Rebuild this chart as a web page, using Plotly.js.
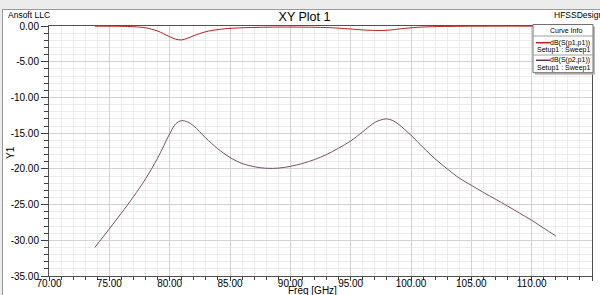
<!DOCTYPE html>
<html><head><meta charset="utf-8">
<script src="https://cdn.plot.ly/plotly-3.0.1.min.js"></script>
<style>
html,body{margin:0;padding:0;background:#ececec;width:600px;height:295px;overflow:hidden;}
#wrap{position:absolute;left:2px;top:9px;width:598px;height:286px;border-left:1px solid #9a9a9a;border-top:1px solid #9a9a9a;background:#fff;}
#chart{position:absolute;left:0;top:0;width:597px;height:285px;}
</style></head>
<body><div id="wrap"><div id="chart"></div></div>
<script>
// ---- data ----
const freqGHz = [73.8,75,76,77,78,79,80,80.5,81,81.5,82,83,84,85,86,87,88,89,90,91,92,93,94,95,96,97,97.5,98,98.5,99,100,101,102,103,104,105,106,107,108,109,110,111,112];
const s11dB = [-0.02,-0.03,-0.05,-0.1,-0.25,-0.7,-1.5,-1.85,-1.95,-1.7,-1.35,-0.8,-0.5,-0.33,-0.25,-0.2,-0.17,-0.15,-0.15,-0.16,-0.18,-0.22,-0.3,-0.42,-0.55,-0.62,-0.63,-0.6,-0.52,-0.42,-0.25,-0.14,-0.09,-0.06,-0.04,-0.03,-0.03,-0.02,-0.02,-0.02,-0.02,-0.02,-0.02];
const s21dB = [-31.0,-28.4,-26.2,-23.9,-21.4,-18.5,-15.1,-13.7,-13.25,-13.45,-14.0,-15.7,-17.2,-18.4,-19.25,-19.7,-19.92,-19.9,-19.65,-19.25,-18.7,-18.0,-17.1,-16.1,-14.8,-13.5,-13.15,-13.0,-13.25,-13.8,-15.3,-17.0,-18.6,-20.0,-21.3,-22.3,-23.3,-24.25,-25.2,-26.2,-27.2,-28.3,-29.4];
const seriesNames = ["dB(S(p1,p1))","dB(S(p2,p1))"];
const sweepLabel = "Setup1 : Sweep1";
const xTickVals = [70,75,80,85,90,95,100,105,110,115];
const xTickText = ["70.00","75.00","80.00","85.00","90.00","95.00","100.00","105.00","110.00","115.00"];
const yTickVals = [0,-5,-10,-15,-20,-25,-30,-35];
const yTickText = ["0.00","-5.00","-10.00","-15.00","-20.00","-25.00","-30.00","-35.00"];

// ---- geometry helpers (absolute page px -> paper coords) ----
const DX=3, DY=10, W=597, H=285, M={l:46,r:8,t:16,b:19};
const PW=W-M.l-M.r, PH=H-M.t-M.b;
const px = a => (a-DX-M.l)/PW;
const py = a => 1-(a-DY-M.t)/PH;

const colors = ["#c01c1c","#7c5068"];
const traces = [
  {x:freqGHz,y:s11dB,type:"scatter",mode:"lines",name:seriesNames[0],line:{color:colors[0],width:1,shape:"spline",smoothing:0.8},showlegend:false},
  {x:freqGHz,y:s21dB,type:"scatter",mode:"lines",name:seriesNames[1],line:{color:colors[1],width:1,shape:"spline",smoothing:0.9},showlegend:false}
];

const F = "Liberation Sans, Arial, sans-serif";
const lx0=533, lx1=593, ly0=24.5, ly1=72.7;
const LF = 7;
const shapes = [
  {type:"rect",xref:"paper",yref:"paper",x0:px(lx0+2),x1:px(lx1+2),y0:py(ly0+2),y1:py(ly1+2),fillcolor:"#b8b8b8",line:{width:0},layer:"above"},
  {type:"rect",xref:"paper",yref:"paper",x0:px(lx0),x1:px(lx1),y0:py(ly0),y1:py(ly1),fillcolor:"#ffffff",line:{color:"#707070",width:1},layer:"above"},
  {type:"line",xref:"paper",yref:"paper",x0:px(lx0),x1:px(lx1),y0:py(36),y1:py(36),line:{color:"#a0a0a0",width:1},layer:"above"},
  {type:"line",xref:"paper",yref:"paper",x0:px(lx0),x1:px(lx1),y0:py(55),y1:py(55),line:{color:"#a0a0a0",width:1},layer:"above"},
  {type:"line",xref:"paper",yref:"paper",x0:px(536),x1:px(550),y0:py(42.7),y1:py(42.7),line:{color:"#d01818",width:1.5},layer:"above"},
  {type:"line",xref:"paper",yref:"paper",x0:px(536),x1:px(550),y0:py(60.3),y1:py(60.3),line:{color:"#6a2c4c",width:1.5},layer:"above"}
];
const annotations = [
  {text:"Ansoft LLC",xref:"paper",yref:"paper",x:px(6),y:py(15),xanchor:"left",yanchor:"middle",showarrow:false,font:{family:F,size:8.5,color:"#000"}},
  {text:"HFSSDesign1",xref:"paper",yref:"paper",x:px(551.5),y:py(15),xanchor:"left",yanchor:"middle",showarrow:false,font:{family:F,size:8.5,color:"#000"}},
  {text:"Curve Info",xref:"paper",yref:"paper",x:px(566),y:py(30.5),xanchor:"center",yanchor:"middle",showarrow:false,font:{family:F,size:LF,color:"#000"}},
  {text:seriesNames[0],xref:"paper",yref:"paper",x:px(592),y:py(42.5),xanchor:"right",yanchor:"middle",showarrow:false,font:{family:F,size:LF,color:"#000"}},
  {text:sweepLabel,xref:"paper",yref:"paper",x:px(535),y:py(50),xanchor:"left",yanchor:"middle",showarrow:false,font:{family:F,size:LF,color:"#000"}},
  {text:seriesNames[1],xref:"paper",yref:"paper",x:px(592),y:py(60),xanchor:"right",yanchor:"middle",showarrow:false,font:{family:F,size:LF,color:"#000"}},
  {text:sweepLabel,xref:"paper",yref:"paper",x:px(535),y:py(68),xanchor:"left",yanchor:"middle",showarrow:false,font:{family:F,size:LF,color:"#000"}},
  {text:"Y1",xref:"paper",yref:"paper",x:px(10),y:py(153),xanchor:"center",yanchor:"middle",textangle:-90,showarrow:false,font:{family:F,size:10,color:"#000"}},
  {text:"Freq [GHz]",xref:"paper",yref:"paper",x:px(312),y:py(290.5),xanchor:"center",yanchor:"middle",showarrow:false,font:{family:F,size:10,color:"#000"}}
];

const layout = {
  width:W,height:H,margin:M,
  paper_bgcolor:"#ffffff",plot_bgcolor:"#ffffff",
  font:{family:F,size:10,color:"#000"},
  title:{text:"XY Plot 1",font:{family:F,size:12.5,color:"#000"},x:(304.5-DX)/W,xanchor:"center",xref:"container",y:1-(16.5-DY)/H,yanchor:"middle",yref:"container"},
  xaxis:{range:[70,115],tickmode:"array",tickvals:xTickVals,ticktext:xTickText,ticks:"outside",ticklen:4,tickcolor:"#404040",ticklabelstandoff:-6,
    showline:true,linecolor:"#505050",linewidth:1,mirror:true,zeroline:false,
    showgrid:true,gridcolor:"#d2d2d2",gridwidth:1,
    minor:{dtick:1,tick0:70,ticks:"outside",ticklen:3,tickcolor:"#404040",showgrid:true,gridcolor:"#ececec",gridwidth:1},
    tickfont:{family:F,size:10,color:"#000"}},
  yaxis:{range:[-35,0],tickmode:"array",tickvals:yTickVals,ticktext:yTickText,ticks:"outside",ticklen:7,tickcolor:"#404040",
    showline:true,linecolor:"#505050",linewidth:1,mirror:true,zeroline:false,
    showgrid:true,gridcolor:"#d2d2d2",gridwidth:1,
    minor:{dtick:1,tick0:0,ticks:"outside",ticklen:4,tickcolor:"#404040",showgrid:true,gridcolor:"#ececec",gridwidth:1},
    tickfont:{family:F,size:10,color:"#000"}},
  showlegend:false,
  shapes:shapes,annotations:annotations
};
Plotly.newPlot("chart",traces,layout,{staticPlot:true,displayModeBar:false});
</script></body></html>
